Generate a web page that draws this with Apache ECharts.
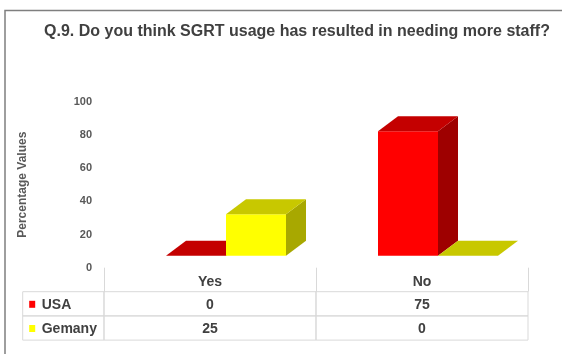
<!DOCTYPE html>
<html>
<head>
<meta charset="utf-8">
<script src="https://cdn.jsdelivr.net/npm/echarts@6/dist/echarts.min.js"></script>
<style>
  html, body { margin: 0; padding: 0; background: #ffffff; }
  #chart { width: 562px; height: 354px; }
</style>
</head>
<body>
<div id="chart"></div>
<script>
// Survey answers, percent of respondents
const categories = ['Yes', 'No'];
const seriesNames = ['USA', 'Gemany'];
const usaValues = [0, 75];
const germanyValues = [25, 0];
const yTicks = [0, 20, 40, 60, 80, 100];

const FONT = "'Liberation Sans', Arial, sans-serif";
const TEXT = '#404040';
const LINE = '#d9d9d9';

// front / top / side shades of each box
const shades = [
  { front: '#ff0000', top: '#c40000', side: '#9e0000', key: '#ff0000' },
  { front: '#ffff00', top: '#c8c800', side: '#a8a800', key: '#ffff00' }
];
const DEPTH_X = 20, DEPTH_Y = -15;   // oblique projection of box depth
const BAR_RATIO = 60 / 212;          // box width relative to category band

function boxItem(seriesIdx) {
  return function (params, api) {
    const cat = api.value(0);
    const base = api.coord([cat, 0]);
    const top = api.coord([cat, api.value(1)]);
    const bw = api.size([1, 0])[0] * BAR_RATIO;
    const x0 = base[0] - bw + seriesIdx * bw;
    const x1 = x0 + bw;
    const yb = base[1], yt = top[1];
    const c = shades[seriesIdx];
    const children = [];
    if (yb - yt > 0.5) {
      children.push({
        type: 'rect',
        shape: { x: x0, y: yt, width: bw, height: yb - yt },
        style: { fill: c.front }
      });
      children.push({
        type: 'polygon',
        shape: { points: [[x1, yt], [x1 + DEPTH_X, yt + DEPTH_Y], [x1 + DEPTH_X, yb + DEPTH_Y], [x1, yb]] },
        style: { fill: c.side }
      });
    }
    children.push({
      type: 'polygon',
      shape: { points: [[x0, yt], [x1, yt], [x1 + DEPTH_X, yt + DEPTH_Y], [x0 + DEPTH_X, yt + DEPTH_Y]] },
      style: { fill: c.top }
    });
    return { type: 'group', children: children };
  };
}

// data table under the category axis
const HEADER_H = 24;
const ROW_H = 24.2;
const TABLE_LEFT = 22.7;
const rows = [usaValues, germanyValues];
const tableData = [];
rows.forEach(function (vals, r) {
  vals.forEach(function (v, c) { tableData.push([c, r, v]); });
});

function tableItem(params, api) {
  const c = api.value(0), r = api.value(1), v = api.value(2);
  const p = api.coord([c, 0]);
  const band = api.size([1, 0])[0];
  const left = p[0] - band / 2;
  const yTop = p[1] + HEADER_H + r * ROW_H;
  const children = [
    { type: 'rect', shape: { x: left, y: yTop, width: band, height: ROW_H },
      style: { fill: 'none', stroke: LINE, lineWidth: 1 } },
    { type: 'text', x: p[0], y: yTop + ROW_H / 2 + 1,
      style: { text: String(v), fill: TEXT, font: 'bold 14px ' + FONT, align: 'center', verticalAlign: 'middle' } }
  ];
  if (c === 0) {
    children.push(
      { type: 'rect', shape: { x: TABLE_LEFT, y: yTop, width: left - TABLE_LEFT, height: ROW_H },
        style: { fill: 'none', stroke: LINE, lineWidth: 1 } },
      { type: 'rect', shape: { x: TABLE_LEFT + 6.5, y: yTop + ROW_H / 2 - 3, width: 6, height: 7 },
        style: { fill: shades[r].key } },
      { type: 'text', x: TABLE_LEFT + 19, y: yTop + ROW_H / 2 + 1,
        style: { text: seriesNames[r], fill: TEXT, font: 'bold 14px ' + FONT, align: 'left', verticalAlign: 'middle' } }
    );
  }
  return { type: 'group', children: children };
}

const chart = echarts.init(document.getElementById('chart'), null, { renderer: 'canvas' });

chart.setOption({
  animation: false,
  backgroundColor: '#ffffff',
  graphic: [
    { type: 'polyline', shape: { points: [[5, 354], [5, 10.5], [562, 10.5]] },
      style: { stroke: '#7f7f7f', lineWidth: 1.5, fill: 'none' }, silent: true },
    { type: 'text', x: 297, y: 32,
      style: { text: 'Q.9. Do you think SGRT usage has resulted in needing more staff?',
        fill: TEXT, font: 'bold 16px ' + FONT, align: 'center', verticalAlign: 'middle' } }
  ],
  grid: [
    { left: 104, width: 424, top: 101.7, height: 166 },   // axis labels and table
    { left: 120, width: 424, top: 89.7, height: 166 }     // front plane of the boxes
  ],
  xAxis: [
    {
      gridIndex: 0, type: 'category', data: categories,
      axisLine: { show: false },
      axisTick: { show: true, length: HEADER_H, lineStyle: { color: LINE, width: 1 } },
      axisLabel: { color: TEXT, fontFamily: FONT, fontWeight: 'bold', fontSize: 14, margin: 7 }
    },
    { gridIndex: 1, type: 'category', data: categories, show: false }
  ],
  yAxis: [
    {
      gridIndex: 0, type: 'value', min: yTicks[0], max: yTicks[yTicks.length - 1], interval: yTicks[1] - yTicks[0],
      name: 'Percentage Values', nameLocation: 'middle', nameRotate: 90, nameGap: 75,
      nameTextStyle: { color: '#595959', fontFamily: FONT, fontWeight: 'bold', fontSize: 12 },
      axisLine: { show: false }, axisTick: { show: false }, splitLine: { show: false },
      axisLabel: { color: '#595959', fontFamily: FONT, fontWeight: 'bold', fontSize: 11, margin: 12 }
    },
    { gridIndex: 1, type: 'value', min: yTicks[0], max: yTicks[yTicks.length - 1], show: false }
  ],
  series: [
    { type: 'custom', name: seriesNames[0], xAxisIndex: 1, yAxisIndex: 1,
      data: usaValues.map(function (v, i) { return [i, v]; }), renderItem: boxItem(0), z: 2 },
    { type: 'custom', name: seriesNames[1], xAxisIndex: 1, yAxisIndex: 1,
      data: germanyValues.map(function (v, i) { return [i, v]; }), renderItem: boxItem(1), z: 3 },
    { type: 'custom', name: 'table', xAxisIndex: 0, yAxisIndex: 0,
      data: tableData, renderItem: tableItem, z: 1, clip: false }
  ]
});
</script>
</body>
</html>
